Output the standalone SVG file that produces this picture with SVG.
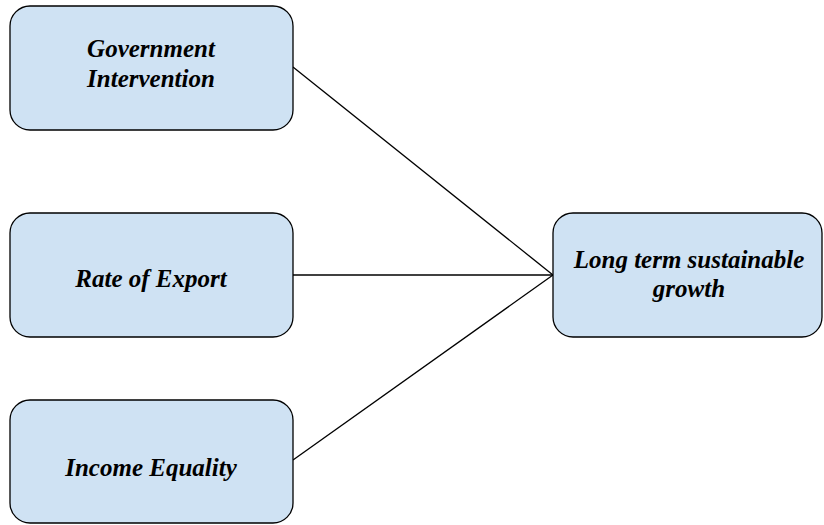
<svg xmlns="http://www.w3.org/2000/svg" width="824" height="525" viewBox="0 0 824 525">
<style>
.box{fill:#cfe2f3;stroke:#000;stroke-width:1.3}
.lbl{font-family:"Liberation Serif","Times New Roman",serif;font-weight:bold;font-style:italic;font-size:25px;fill:#000;text-anchor:middle}
.conn{stroke:#000;stroke-width:1.3;fill:none}
</style>
<rect width="824" height="525" fill="#fff"/>
<g id="connectors">
<line class="conn" x1="293" y1="67" x2="553" y2="275"/>
<line class="conn" x1="293" y1="275" x2="553" y2="275"/>
<line class="conn" x1="293" y1="460" x2="553" y2="275"/>
</g>
<g id="gov">
<rect class="box" x="10" y="6" width="283" height="124" rx="20"/>
<text class="lbl" x="151" y="57">Government</text>
<text class="lbl" x="151" y="87">Intervention</text>
</g>
<g id="export">
<rect class="box" x="10" y="213" width="283" height="124" rx="20"/>
<text class="lbl" x="151" y="287">Rate of Export</text>
</g>
<g id="income">
<rect class="box" x="10" y="400" width="283" height="123" rx="20"/>
<text class="lbl" x="151" y="476">Income Equality</text>
</g>
<g id="growth">
<rect class="box" x="553" y="213" width="269" height="124" rx="20"/>
<text class="lbl" x="689" y="268">Long term sustainable</text>
<text class="lbl" x="689" y="297">growth</text>
</g>
</svg>
